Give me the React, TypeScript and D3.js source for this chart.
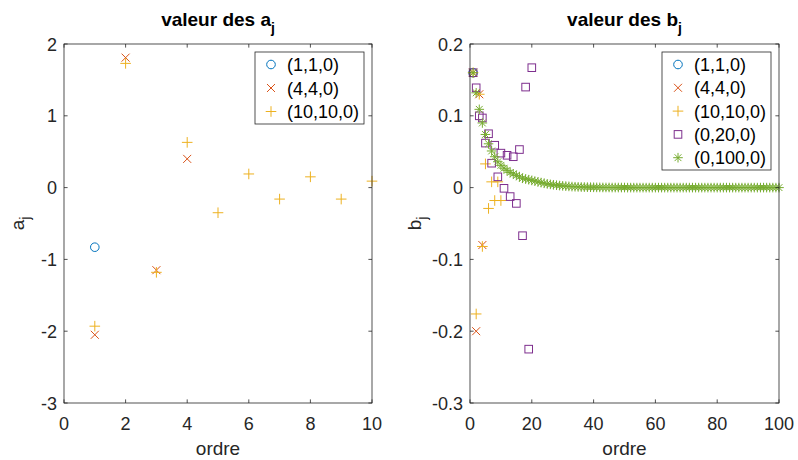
import React from 'react';
import * as d3 from 'd3';

// ---------- data ----------
const aTicksX = [0, 2, 4, 6, 8, 10];
const aTicksY = [-3, -2, -1, 0, 1, 2];
const aTickLabelsY = ['-3', '-2', '-1', '0', '1', '2'];
const bTicksX = [0, 20, 40, 60, 80, 100];
const bTicksY = [-0.3, -0.2, -0.1, 0, 0.1, 0.2];
const bTickLabelsY = ['-0.3', '-0.2', '-0.1', '0', '0.1', '0.2'];

const legendLabels = ['(1,1,0)', '(4,4,0)', '(10,10,0)', '(0,20,0)', '(0,100,0)'];

const a_1_1_0 = [-0.83];
const a_4_4_0 = [-2.05, 1.81, -1.15, 0.4];
const a_10_10_0 = [-1.93, 1.73, -1.18, 0.63, -0.35, 0.19, -0.16, 0.15, -0.16, 0.09];

const b_1_1_0 = [0.16];
const b_4_4_0 = [0.16, -0.2, 0.13, -0.08];
const b_10_10_0 = [0.16, -0.176, 0.13, -0.082, 0.033, -0.029, 0.008, -0.018, 0.008, -0.018];
const b_0_20_0 = [0.16, 0.139, 0.1, 0.097, 0.062, 0.075, 0.034, 0.059, 0.015, 0.048,
  -0.001, 0.045, -0.0125, 0.043, -0.022, 0.053, -0.067, 0.14, -0.225, 0.167];
const b_0_100_0 = [
  0.16, 0.132, 0.109, 0.09, 0.074, 0.061, 0.051, 0.043, 0.036, 0.031,
  0.027, 0.024, 0.021, 0.019, 0.017, 0.015, 0.013, 0.012, 0.011, 0.01,
  0.009, 0.008, 0.007, 0.006, 0.0052, 0.0045, 0.0039, 0.0033, 0.0028, 0.0024,
  0.002, 0.0017, 0.0014, 0.0012, 0.001, 0.0008, 0.0007, 0.0006, 0.0005, 0.0004,
  0.0003, 0.0003, 0.0002, 0.0002, 0.0002, 0.0001, 0.0001, 0.0001, 0.0001, 0.0001,
  0, 0, 0, 0, 0, 0, 0, 0, 0, 0,
  0, 0, 0, 0, 0, 0, 0, 0, 0, 0,
  0, 0, 0, 0, 0, 0, 0, 0, 0, 0,
  0, 0, 0, 0, 0, 0, 0, 0, 0, 0,
  0, 0, 0, 0, 0, 0, 0, 0, 0, 0,
];

// ---------- style ----------
const COLORS = ['#0072BD', '#D95319', '#EDB120', '#7E2F8E', '#77AC30'];
const MARKERS = ['o', 'x', '+', 's', '*'];
const FONT = "'Liberation Sans', Arial, Helvetica, sans-serif";
const AXC = '#262626';

type Series = { values: number[]; color: string; marker: string; label: string };

function Marker({ x, y, type, color }: { x: number; y: number; type: string; color: string }) {
  const sw = 1;
  if (type === 'o') return <circle cx={x} cy={y} r={4.3} fill="none" stroke={color} strokeWidth={sw} />;
  if (type === 's') return <rect x={x - 3.8} y={y - 3.8} width={7.6} height={7.6} fill="none" stroke={color} strokeWidth={sw} />;
  if (type === 'x') {
    const h = 4;
    return <path d={`M${x - h},${y - h}L${x + h},${y + h}M${x - h},${y + h}L${x + h},${y - h}`} stroke={color} strokeWidth={sw} fill="none" />;
  }
  if (type === '+') {
    const h = 5.3;
    return <path d={`M${x - h},${y}L${x + h},${y}M${x},${y - h}L${x},${y + h}`} stroke={color} strokeWidth={sw} fill="none" />;
  }
  // '*'
  const h = 4.8, d = 3.4;
  return <path d={`M${x - h},${y}L${x + h},${y}M${x},${y - h}L${x},${y + h}M${x - d},${y - d}L${x + d},${y + d}M${x - d},${y + d}L${x + d},${y - d}`} stroke={color} strokeWidth={sw} fill="none" />;
}

type PanelProps = {
  left: number; right: number; top: number; bottom: number;
  xDomain: [number, number]; yDomain: [number, number];
  xTicks: number[]; yTicks: number[]; yTickLabels: string[];
  series: Series[]; titleBase: string; yBase: string;
  legend: { x: number; y: number; w: number; h: number; rowH: number };
  yLabelX: number;
};

function Panel(p: PanelProps) {
  const x = d3.scaleLinear().domain(p.xDomain).range([p.left, p.right]);
  const y = d3.scaleLinear().domain(p.yDomain).range([p.bottom, p.top]);
  const tl = 3.6;
  const cx = (p.left + p.right) / 2;
  const cy = (p.top + p.bottom) / 2;
  return (
    <g>
      {/* markers */}
      <g clipPath={undefined}>
        {p.series.map((s, si) => (
          <g key={si}>
            {s.values.map((v, i) => (
              <Marker key={i} x={x(i + 1)} y={y(v)} type={s.marker} color={s.color} />
            ))}
          </g>
        ))}
      </g>
      {/* box */}
      <rect x={p.left} y={p.top} width={p.right - p.left} height={p.bottom - p.top} fill="none" stroke={AXC} strokeWidth={0.8} />
      {p.xTicks.map((t) => (
        <g key={'x' + t}>
          <line x1={x(t)} x2={x(t)} y1={p.bottom} y2={p.bottom - tl} stroke={AXC} strokeWidth={0.8} />
          <line x1={x(t)} x2={x(t)} y1={p.top} y2={p.top + tl} stroke={AXC} strokeWidth={0.8} />
          <text x={x(t)} y={p.bottom + 27} textAnchor="middle" fontSize={18} fill={AXC} fontFamily={FONT}>{String(t)}</text>
        </g>
      ))}
      {p.yTicks.map((t, i) => (
        <g key={'y' + t}>
          <line x1={p.left} x2={p.left + tl} y1={y(t)} y2={y(t)} stroke={AXC} strokeWidth={0.8} />
          <line x1={p.right} x2={p.right - tl} y1={y(t)} y2={y(t)} stroke={AXC} strokeWidth={0.8} />
          <text x={p.left - 7} y={y(t) + 6.5} textAnchor="end" fontSize={18} fill={AXC} fontFamily={FONT}>{p.yTickLabels[i]}</text>
        </g>
      ))}
      {/* x label */}
      <text x={cx} y={p.bottom + 52} textAnchor="middle" fontSize={19} fill={AXC} fontFamily={FONT}>ordre</text>
      {/* y label */}
      <text transform={`translate(${p.yLabelX},${cy}) rotate(-90)`} textAnchor="middle" fontSize={19} fill={AXC} fontFamily={FONT}>
        {p.yBase}<tspan dy={6} fontSize={14}>j</tspan>
      </text>
      {/* title */}
      <text x={cx} y={26} textAnchor="middle" fontSize={19} fontWeight="bold" fill="#000" fontFamily={FONT}>
        {p.titleBase}<tspan dy={7} fontSize={14}>j</tspan>
      </text>
      {/* legend */}
      <rect x={p.legend.x} y={p.legend.y} width={p.legend.w} height={p.legend.h} fill="#fff" stroke={AXC} strokeWidth={0.8} />
      {p.series.map((s, i) => {
        const ry = p.legend.y + 12.5 + i * p.legend.rowH;
        return (
          <g key={'l' + i}>
            <Marker x={p.legend.x + 16} y={ry} type={s.marker} color={s.color} />
            <text x={p.legend.x + 32} y={ry + 6.5} fontSize={18} fill="#000" fontFamily={FONT}>{s.label}</text>
          </g>
        );
      })}
    </g>
  );
}

export default function App() {
  const aSeries: Series[] = [a_1_1_0, a_4_4_0, a_10_10_0].map((v, i) => ({ values: v, color: COLORS[i], marker: MARKERS[i], label: legendLabels[i] }));
  const bSeries: Series[] = [b_1_1_0, b_4_4_0, b_10_10_0, b_0_20_0, b_0_100_0].map((v, i) => ({ values: v, color: COLORS[i], marker: MARKERS[i], label: legendLabels[i] }));
  return (
    <div style={{ position: 'absolute', left: 0, top: 0 }}>
      <svg width={798} height={460} style={{ display: 'block', background: '#fff' }}>
        <Panel left={64} right={372} top={44} bottom={403}
          xDomain={[0, 10]} yDomain={[-3, 2]} xTicks={aTicksX} yTicks={aTicksY} yTickLabels={aTickLabelsY}
          series={aSeries} titleBase="valeur des a" yBase="a"
          legend={{ x: 255, y: 52, w: 109, h: 72, rowH: 23.5 }} yLabelX={24} />
        <Panel left={470} right={779} top={44} bottom={403}
          xDomain={[0, 100]} yDomain={[-0.3, 0.2]} xTicks={bTicksX} yTicks={bTicksY} yTickLabels={bTickLabelsY}
          series={bSeries} titleBase="valeur des b" yBase="b"
          legend={{ x: 662, y: 52, w: 109, h: 118, rowH: 23.3 }} yLabelX={421} />
      </svg>
    </div>
  );
}
